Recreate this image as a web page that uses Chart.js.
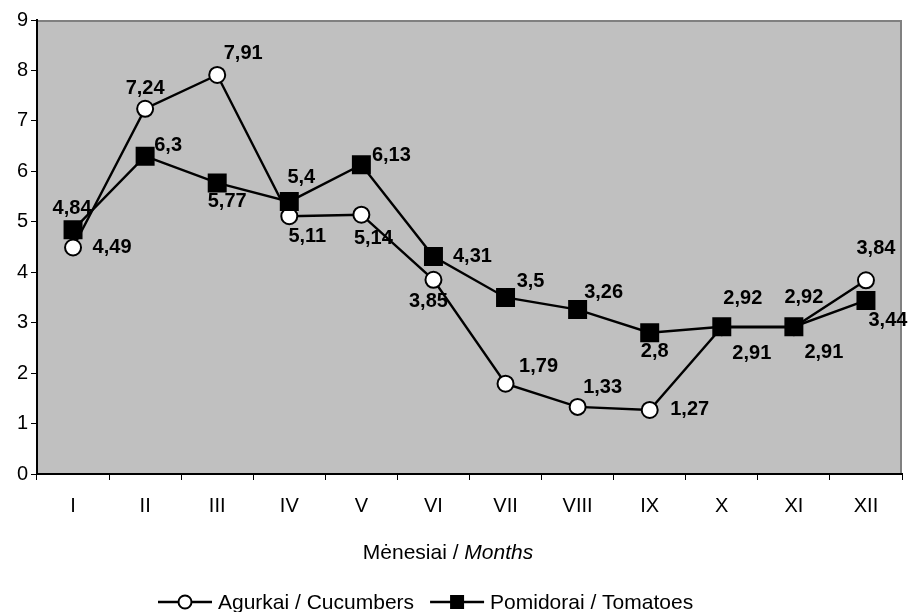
<!DOCTYPE html>
<html>
<head>
<meta charset="utf-8">
<script src="https://cdn.jsdelivr.net/npm/chart.js@4.4.1/dist/chart.umd.min.js"></script>
<style>
  body { margin: 0; background: #fff; }
  #wrap { width: 916px; height: 612px; }
</style>
</head>
<body>
<div id="wrap"><canvas id="canvas" width="916" height="612"></canvas></div>
<script>
// duomenys
var menesiai = ['I', 'II', 'III', 'IV', 'V', 'VI', 'VII', 'VIII', 'IX', 'X', 'XI', 'XII'];
var agurkai = [4.49, 7.24, 7.91, 5.11, 5.14, 3.85, 1.79, 1.33, 1.27, 2.91, 2.91, 3.84];
var pomidorai = [4.84, 6.3, 5.77, 5.4, 6.13, 4.31, 3.5, 3.26, 2.8, 2.92, 2.92, 3.44];
var yTicks = [0, 1, 2, 3, 4, 5, 6, 7, 8, 9];

// label offsets (px) relative to each point
var agurkaiOff = [[39, 0], [0, -20], [26, -22], [18, 20], [12, 24], [-5, 22], [33, -17], [25, -19], [40, 0], [30, 26], [30, 25], [10, -32]];
var pomidoraiOff = [[-1, -21], [23, -11], [10, 19], [12, -24], [30, -9], [39, 0], [25, -16], [26, -17], [5, 19], [21, -28], [10, -29], [22, 20]];

var FONT = 'Arial, "Liberation Sans", sans-serif';

function createDataset(name, dados, style, fill, radius, order) {
    return {
        label: name,
        data: dados,
        borderColor: '#000',
        borderWidth: 2.4,
        backgroundColor: fill,
        pointStyle: style,
        pointRadius: radius,
        pointHoverRadius: radius,
        pointBackgroundColor: fill,
        pointBorderColor: '#000',
        pointBorderWidth: 2,
        tension: 0,
        fill: false,
        order: order
    };
}

function fmt(v) {
    return String(v).replace('.', ',');
}

var plotBg = {
    id: 'plotBg',
    beforeDraw: function (chart) {
        var a = chart.chartArea, ctx = chart.ctx;
        ctx.save();
        ctx.fillStyle = '#c0c0c0';
        ctx.fillRect(a.left, a.top, a.right - a.left, a.bottom - a.top);
        ctx.strokeStyle = '#808080';
        ctx.lineWidth = 2;
        ctx.beginPath();
        ctx.moveTo(a.left, a.top + 1);
        ctx.lineTo(a.right - 1, a.top + 1);
        ctx.lineTo(a.right - 1, a.bottom);
        ctx.stroke();
        ctx.restore();
    }
};

var labelsPlugin = {
    id: 'pointLabels',
    afterDatasetsDraw: function (chart) {
        var ctx = chart.ctx;
        var offs = [agurkaiOff, pomidoraiOff];
        ctx.save();
        ctx.font = 'bold 20px ' + FONT;
        ctx.fillStyle = '#000';
        ctx.textAlign = 'center';
        ctx.textBaseline = 'middle';
        chart.data.datasets.forEach(function (ds, di) {
            var meta = chart.getDatasetMeta(di);
            meta.data.forEach(function (pt, i) {
                ctx.fillText(fmt(ds.data[i]), pt.x + offs[di][i][0], pt.y + offs[di][i][1]);
            });
        });
        ctx.restore();
    }
};

function drawMarker(ctx, ds, x, y) {
    ctx.fillStyle = ds.pointBackgroundColor;
    ctx.strokeStyle = '#000';
    ctx.lineWidth = 2;
    if (ds.pointStyle === 'circle') {
        ctx.beginPath();
        ctx.arc(x, y, 6.5, 0, Math.PI * 2);
        ctx.fill();
        ctx.stroke();
    } else {
        ctx.fillRect(x - 7, y - 7, 14, 14);
    }
}

var legendPlugin = {
    id: 'bottomLegend',
    afterDraw: function (chart) {
        var ctx = chart.ctx;
        ctx.save();
        // axis title
        ctx.font = '21px ' + FONT;
        var t1 = 'Mėnesiai / ';
        var w1 = ctx.measureText(t1).width;
        ctx.font = 'italic 21px ' + FONT;
        var t2 = 'Months';
        var w2 = ctx.measureText(t2).width;
        var tx = 448 - (w1 + w2) / 2;
        ctx.fillStyle = '#000';
        ctx.textBaseline = 'middle';
        ctx.textAlign = 'left';
        ctx.font = '21px ' + FONT;
        ctx.fillText(t1, tx, 553);
        ctx.font = 'italic 21px ' + FONT;
        ctx.fillText(t2, tx + w1, 553);

        // legend
        var x = 158, y = 602;
        ctx.font = '21px ' + FONT;
        chart.data.datasets.forEach(function (ds) {
            ctx.strokeStyle = '#000';
            ctx.lineWidth = 2.4;
            ctx.beginPath();
            ctx.moveTo(x, y);
            ctx.lineTo(x + 54, y);
            ctx.stroke();
            drawMarker(ctx, ds, x + 27, y);
            ctx.fillStyle = '#000';
            ctx.fillText(ds.label, x + 60, y + 1);
            x += 60 + ctx.measureText(ds.label).width + 16;
        });
        ctx.restore();
    }
};

var config = {
    type: 'line',
    data: {
        labels: menesiai,
        datasets: [
            createDataset('Agurkai / Cucumbers', agurkai, 'circle', '#ffffff', 8, 1),
            createDataset('Pomidorai / Tomatoes', pomidorai, 'rect', '#000000', 12, 0)
        ]
    },
    options: {
        responsive: false,
        animation: false,
        layout: { padding: { top: 20, right: 8, left: 0, bottom: 0 } },
        plugins: {
            legend: { display: false },
            tooltip: { enabled: false }
        },
        scales: {
            x: {
                offset: true,
                grid: { offset: true, drawOnChartArea: false, drawTicks: true, tickLength: 6, color: '#000', lineWidth: 1 },
                border: { display: true, color: '#000', width: 2 },
                ticks: { color: '#000', font: { family: FONT, size: 20 }, padding: 14, maxRotation: 0 },
                afterFit: function (scale) { scale.height = 138; }
            },
            y: {
                min: 0,
                max: 9,
                afterBuildTicks: function (scale) {
                    scale.ticks = yTicks.map(function (v) { return { value: v }; });
                },
                grid: { drawOnChartArea: false, drawTicks: true, tickLength: 6, color: '#000', lineWidth: 1 },
                border: { display: true, color: '#000', width: 2 },
                ticks: { color: '#000', font: { family: FONT, size: 20 }, padding: 3 },
                afterFit: function (scale) { scale.width = 37; }
            }
        }
    },
    plugins: [plotBg, labelsPlugin, legendPlugin]
};

var ctx = document.getElementById('canvas').getContext('2d');
window.myLine = new Chart(ctx, config);
</script>
</body>
</html>
